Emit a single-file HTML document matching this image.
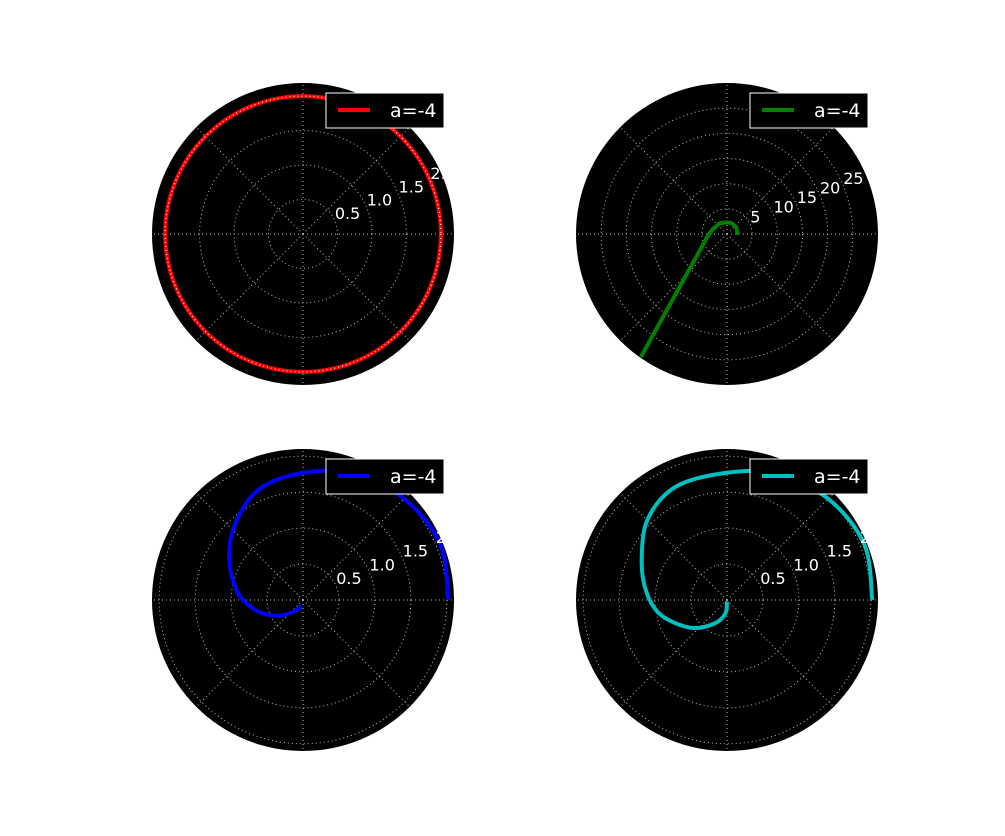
<!DOCTYPE html>
<html><head><meta charset="utf-8"><style>
body{margin:0;background:#fff;}
svg{display:block;font-family:"DejaVu Sans","Liberation Sans",sans-serif;}
</style></head><body>
<svg id="fig" width="1005" height="836" viewBox="0 0 1005 836"></svg>
<script>
// ---- data ----
const redTheta = [0,30,60,90,120,150,180,210,240,270,300,330,360];
const redR = [2,2,2,2,2,2,2,2,2,2,2,2,2];
const greenTheta = [-5,36,69,93,124,160,185,235];
const greenR = [2.19,2.28,2.35,2.32,2.57,2.95,3.79,29.8];
const blueTheta = [0,22,45,69,90,111,129,149,173,194,213,232,258];
const blueR = [2.02,2.06,1.99,1.88,1.77,1.66,1.45,1.20,0.92,0.65,0.40,0.20,0.09];
const cyanTheta = [0,22,45,69,90,114,134,154,174,193,218,242,263,270];
const cyanR = [2.02,2.06,1.99,1.88,1.77,1.73,1.58,1.32,1.13,0.94,0.63,0.37,0.19,0.02];
const ticksSmall = ["0.5","1.0","1.5","2.0"];
const ticksSmallVal = [0.5,1.0,1.5,2.0];
const ticksBig = ["5","10","15","20","25"];
const ticksBigVal = [5,10,15,20,25];
const legendLabel = "a=-4";

const NS="http://www.w3.org/2000/svg";
const fig=document.getElementById('fig');
function mk(tag,attrs,parent){const e=document.createElementNS(NS,tag);for(const k in attrs)e.setAttribute(k,attrs[k]);(parent||fig).appendChild(e);return e;}

function panel(name,cx,cy,rmax,tickVals,tickLabels,thetas,rs,color,linear,dots){
  const R=151;
  const g=mk('g',{});
  
  
  const scale=v=>v/rmax*R;
  const pt=(t,r)=>[cx+scale(r)*Math.cos(t*Math.PI/180), cy-scale(r)*Math.sin(t*Math.PI/180)];
  const bg=mk('circle',{cx:cx,cy:cy,r:R,fill:'#000'},g);
  
  
  tickVals.forEach(v=>{
    const c=mk('circle',{cx:cx,cy:cy,r:scale(v),fill:'none',stroke:'#bbb','stroke-width':1,'stroke-dasharray':'1,3'},g);
    
    
  });
  for(let a=0;a<360;a+=45){
    const p=pt(a,rmax);
    const l=mk('line',{x1:cx,y1:cy,x2:p[0],y2:p[1],stroke:'#bbb','stroke-width':1,'stroke-dasharray':'1,3'},g);
    
    
  }
  const pts=thetas.map((t,i)=>pt(t,rs[i]));
  let d='M'+pts[0][0]+','+pts[0][1];
  if(linear){
    for(let i=1;i<pts.length;i++) d+=' L'+pts[i][0]+','+pts[i][1];
  } else {
    for(let i=0;i<pts.length-1;i++){
      const p0=pts[Math.max(0,i-1)],p1=pts[i],p2=pts[i+1],p3=pts[Math.min(pts.length-1,i+2)];
      const c1=[p1[0]+(p2[0]-p0[0])/6,p1[1]+(p2[1]-p0[1])/6];
      const c2=[p2[0]-(p3[0]-p1[0])/6,p2[1]-(p3[1]-p1[1])/6];
      d+=' C'+c1[0]+','+c1[1]+' '+c2[0]+','+c2[1]+' '+p2[0]+','+p2[1];
    }
  }
  let line;
  if(dots){
    line=mk('circle',{cx:cx,cy:cy,r:scale(rs[0]),fill:'none',stroke:color,'stroke-width':4},g);
    const o=mk('circle',{cx:cx,cy:cy,r:scale(rs[0]),fill:'none',stroke:'#fff','stroke-width':1.2,'stroke-dasharray':'1,3'},g);
    
    
  } else {
    line=mk('path',{d:d,fill:'none',stroke:color,'stroke-width':4,'stroke-linejoin':'round'},g);
  }
  
  
  tickVals.forEach((v,i)=>{
    const p=pt(22.5,v);
    const t=mk('text',{x:p[0],y:p[1]-2,fill:'#fff','font-size':16},g);
    t.textContent=tickLabels[i];
    
    
  });
  const lx=cx+23, ly=cy-141;
  const lg=mk('g',{},g);
  
  
  mk('rect',{x:lx,y:ly,width:118,height:35,fill:'#000',stroke:'#fff','stroke-width':1},lg);
  const ll=mk('line',{x1:lx+12,y1:ly+17,x2:lx+44,y2:ly+17,stroke:color,'stroke-width':4},lg);
  
  
  const lt=mk('text',{x:lx+64,y:ly+24,fill:'#fff','font-size':19},lg);
  lt.textContent=legendLabel;
  
  
}
panel('top-left',303,234,2.19,ticksSmallVal,ticksSmall,redTheta,redR,'#ff0000',false,true);
panel('top-right',727,234,30,ticksBigVal,ticksBig,greenTheta,greenR,'#008000',true,false);
panel('bottom-left',303,600,2.1,ticksSmallVal,ticksSmall,blueTheta,blueR,'#0000ff',false,false);
panel('bottom-right',727,600,2.1,ticksSmallVal,ticksSmall,cyanTheta,cyanR,'#00bfbf',false,false);
</script>
</body></html>
